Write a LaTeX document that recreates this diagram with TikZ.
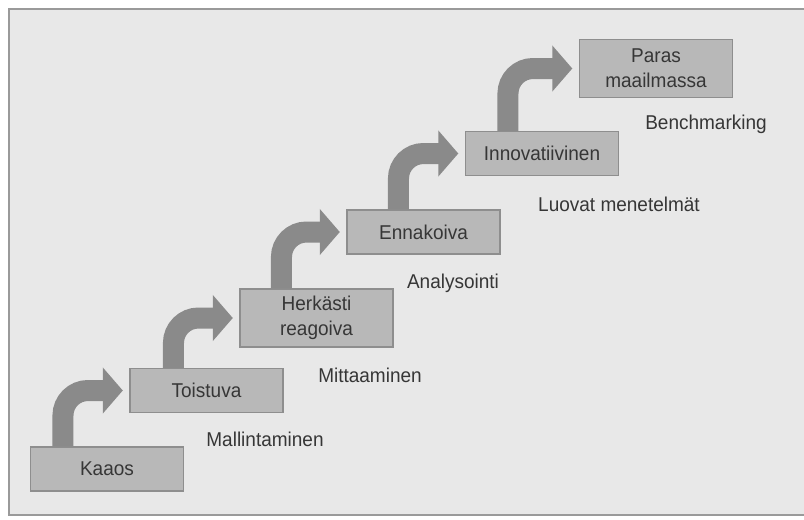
\documentclass[tikz,border=0pt]{standalone}
\usepackage{fontspec}
\setmainfont{Liberation Sans}[FakeStretch=0.95]
\usetikzlibrary{arrows.meta, positioning, calc}

\definecolor{panelfill}{HTML}{E8E8E8}
\definecolor{panelline}{HTML}{9A9A9A}
\definecolor{boxfill}{HTML}{B8B8B8}
\definecolor{boxline}{HTML}{8E8E8E}
\definecolor{climbgray}{HTML}{8A8A8A}
\definecolor{inkgray}{HTML}{363636}

\begin{document}
\begin{tikzpicture}[
		x=0.75pt, y=-0.75pt,
		stage/.style={draw=boxline, fill=boxfill, rectangle, line width=0.8pt,
			minimum width=114.75pt, minimum height=33pt, align=center,
			inner sep=2pt, text=inkgray, font=\fontsize{15}{19}\selectfont},
		tall/.style={minimum height=43.5pt},
		note/.style={text=inkgray, inner sep=0pt, font=\fontsize{15}{19}\selectfont},
		climb/.style={draw=climbgray, line width=15.75pt, rounded corners=18.75pt,
			-{Triangle[width=33.75pt, length=15pt]}, shorten >=5pt},
	]

	\useasboundingbox (0,0) rectangle (804,519);

	% -- background panel --
	\fill[white] (0,0) rectangle (804,519);
	\fill[panelfill] (9,9) rectangle (804,515);
	\draw[panelline, line width=1pt] (804,9) -- (9,9) -- (9,515) -- (804,515);

	% -- all stages --

	\node [stage] (kaaos) at (107, 469) {Kaaos};
	\node [stage] (toistuva) at (206.5, 390.5) {Toistuva};
	\node [stage,tall] (herkasti) at (316.5, 318) {Herkästi\\reagoiva};
	\node [stage] (ennakoiva) at (423.5, 232) {Ennakoiva};
	\node [stage] (innov) at (542, 153.5) {Innovatiivinen};
	\node [stage,tall] (paras) at (656, 68.5) {Paras\\maailmassa};

	% -- methods under each stage --

	\node [note] (mall) at (265, 439) {Mallintaminen};
	\node [note] (mitt) at (370, 375) {Mittaaminen};
	\node [note] (anal) at (453, 283) {Analysointi};
	\node [note] (luov) at (619, 204) {Luovat menetelmät};
	\node [note] (bench) at (706, 124) {Benchmarking};

	% -- climbing arrows --

	\draw[climb] ($(kaaos.north west)+(33,0)$) |- (toistuva.west);
	\draw[climb] ($(toistuva.north west)+(44,0)$) |- (herkasti.west);
	\draw[climb] ($(herkasti.north west)+(42,0)$) |- (ennakoiva.west);
	\draw[climb] ($(ennakoiva.north west)+(52,0)$) |- (innov.west);
	\draw[climb] ($(innov.north west)+(43,0)$) |- (paras.west);
\end{tikzpicture}
\end{document}
